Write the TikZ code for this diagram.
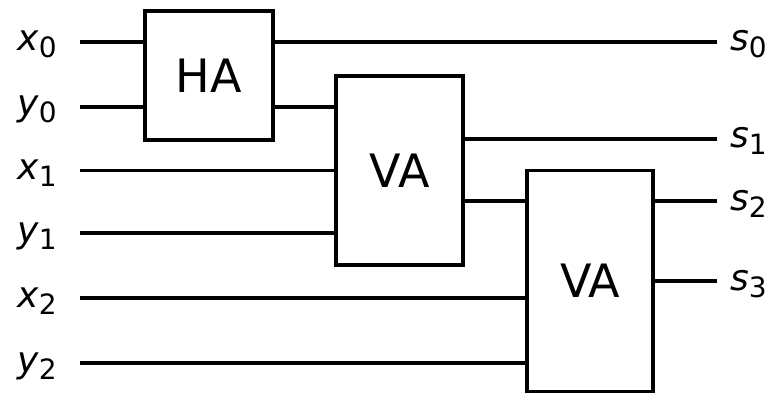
\documentclass[tikz,border=0pt]{standalone}
\usepackage{fontspec}
\setmainfont{DejaVu Sans}
\newcommand\sig[2]{{\fontsize{36}{36}\selectfont\textit{#1}\raisebox{-7pt}{\fontsize{28}{28}\selectfont #2}}}
\begin{document}
\begin{tikzpicture}[x=1pt,y=-1pt,
  wire/.style={line width=3.2pt},
  box/.style={draw,line width=3.2pt,rectangle,inner sep=0pt,font=\fontsize{46}{46}\selectfont},
  lbl/.style={inner sep=0pt}]
\useasboundingbox (0,0) rectangle (771,393);
% boxes
\node[box,minimum width=128pt,minimum height=129pt] (HA) at (209,75.5) {HA};
\node[box,minimum width=127pt,minimum height=189pt] (VA1) at (399.5,170.5) {VA};
\node[box,minimum width=126pt,minimum height=221pt] (VA2) at (590,281) {VA};
% input labels
\node[lbl,anchor=base west] (lx0) at (17,51) {\sig{x}{0}};
\node[lbl,anchor=base west] (ly0) at (17,116) {\sig{y}{0}};
\node[lbl,anchor=base west] (lx1) at (17,179.5) {\sig{x}{1}};
\node[lbl,anchor=base west] (ly1) at (17,242) {\sig{y}{1}};
\node[lbl,anchor=base west] (lx2) at (17,307) {\sig{x}{2}};
\node[lbl,anchor=base west] (ly2) at (17,372) {\sig{y}{2}};
% output labels
\node[lbl,anchor=base west] (ls0) at (730,51) {\sig{s}{0}};
\node[lbl,anchor=base west] (ls1) at (730,148) {\sig{s}{1}};
\node[lbl,anchor=base west] (ls2) at (730,210) {\sig{s}{2}};
\node[lbl,anchor=base west] (ls3) at (730,290) {\sig{s}{3}};
% wire end points
\coordinate (ix0) at (80,42);
\coordinate (iy0) at (80,107);
\coordinate (ix1) at (80,170.5);
\coordinate (iy1) at (80,233);
\coordinate (ix2) at (80,298);
\coordinate (iy2) at (80,363);
\coordinate (os0) at (717,42);
\coordinate (os1) at (717,139);
\coordinate (os2) at (717,201);
\coordinate (os3) at (717,281);
\coordinate (c1) at (463,201);
% wires
\draw[wire] (ix0) -- (ix0 -| HA.west);
\draw[wire] (iy0) -- (iy0 -| HA.west);
\draw[wire] (ix1) -- (ix1 -| VA1.west);
\draw[wire] (iy1) -- (iy1 -| VA1.west);
\draw[wire] (ix2) -- (ix2 -| VA2.west);
\draw[wire] (iy2) -- (iy2 -| VA2.west);
\draw[wire] (HA.east |- os0) -- (os0);
\draw[wire] (HA.east |- iy0) -- (VA1.west |- iy0);
\draw[wire] (VA1.east |- os1) -- (os1);
\draw[wire] (VA1.east |- c1) -- (VA2.west |- c1);
\draw[wire] (VA2.east |- os2) -- (os2);
\draw[wire] (VA2.east |- os3) -- (os3);
\end{tikzpicture}
\end{document}
